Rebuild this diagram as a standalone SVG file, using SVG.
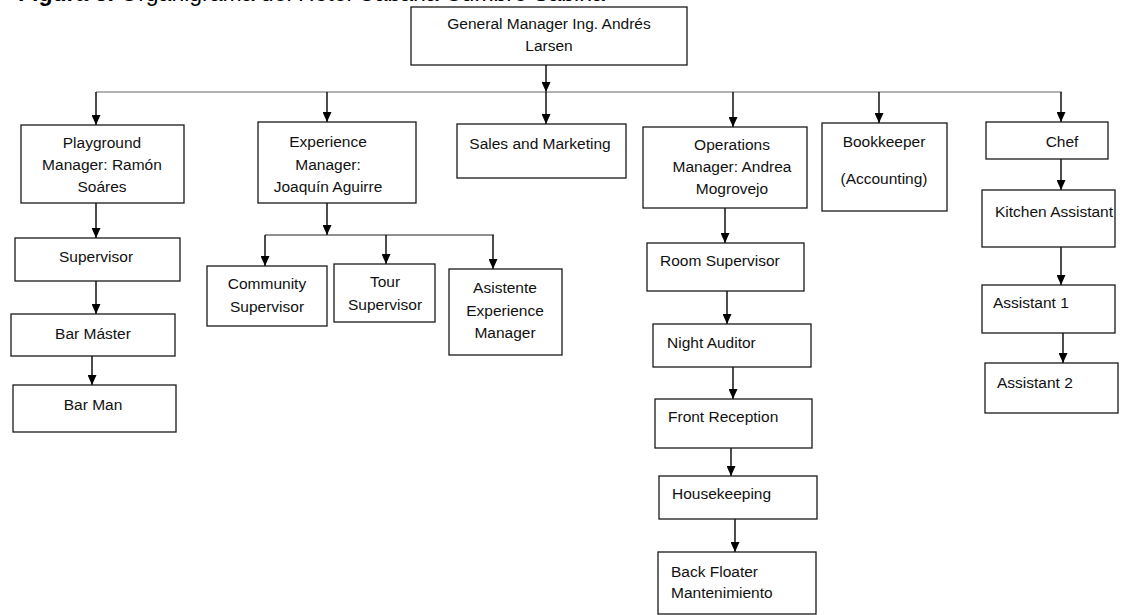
<svg xmlns="http://www.w3.org/2000/svg" width="1130" height="615" viewBox="0 0 1130 615">
<defs>
<marker id="ah" markerUnits="userSpaceOnUse" markerWidth="10" markerHeight="9" refX="10" refY="4.5" orient="auto">
<path d="M0,0 L10,4.5 L0,9 z" fill="#000"/>
</marker>
</defs>
<style>
.box{fill:#fff;stroke:#1a1a1a;stroke-width:1.3}
.t{font-family:"Liberation Sans",Arial,sans-serif;font-size:15.5px;fill:#111}
.c{text-anchor:middle}
.a{fill:none;stroke:#000;stroke-width:1.4;marker-end:url(#ah)}
.bus{fill:none;stroke:#666;stroke-width:1.1}
.sub{fill:none;stroke:#222;stroke-width:1.1}
.title{font-family:"Liberation Sans",Arial,sans-serif;font-size:23px;fill:#000}
</style>
<rect width="1130" height="615" fill="#fff"/>
<text class="title" x="18" y="0.5"><tspan font-weight="bold">Figura 3. </tspan>Organigrama del Hotel Cabaña Cumbre Sabina</text>

<g id="connectors">
<path class="a" d="M546,65 V92"/>
<path class="bus" d="M96,92 H1062"/>
<path class="a" d="M96,92 V125"/>
<path class="a" d="M327,92 V122"/>
<path class="a" d="M546,92 V124"/>
<path class="a" d="M733,92 V127"/>
<path class="a" d="M879,92 V123"/>
<path class="a" d="M1061,92 V122"/>
<path class="a" d="M96,203 V238"/>
<path class="a" d="M96,281 V314"/>
<path class="a" d="M92,356 V385"/>
<path class="a" d="M327,203 V235"/>
<path class="sub" d="M265,235 H494"/>
<path class="a" d="M265,235 V266"/>
<path class="a" d="M386,235 V264"/>
<path class="a" d="M493,235 V269"/>
<path class="a" d="M725,208 V243"/>
<path class="a" d="M727,291 V324"/>
<path class="a" d="M733,367 V399"/>
<path class="a" d="M731,448 V476"/>
<path class="a" d="M735,519 V552"/>
<path class="a" d="M1061,159 V190"/>
<path class="a" d="M1061,247 V285"/>
<path class="a" d="M1063,333 V363"/>
</g>

<g id="gm"><rect class="box" x="411" y="7" width="276" height="58"/>
<text class="t c" x="549" y="29">General Manager Ing. Andrés</text>
<text class="t c" x="549" y="51">Larsen</text></g>

<g id="playground"><rect class="box" x="21" y="125" width="163" height="78"/>
<text class="t c" x="102" y="148">Playground</text>
<text class="t c" x="102" y="170">Manager: Ramón</text>
<text class="t c" x="102" y="192">Soáres</text></g>

<g id="experience"><rect class="box" x="258" y="122" width="158" height="81"/>
<text class="t c" x="328" y="147">Experience</text>
<text class="t c" x="328" y="170">Manager:</text>
<text class="t c" x="328" y="192">Joaquín Aguirre</text></g>

<g id="sales"><rect class="box" x="457" y="124" width="169" height="54"/>
<text class="t c" x="540" y="149">Sales and Marketing</text></g>

<g id="operations"><rect class="box" x="643" y="127" width="164" height="81"/>
<text class="t c" x="732" y="150">Operations</text>
<text class="t c" x="732" y="172">Manager: Andrea</text>
<text class="t c" x="732" y="194">Mogrovejo</text></g>

<g id="bookkeeper"><rect class="box" x="822" y="123" width="125" height="88"/>
<text class="t c" x="884" y="147">Bookkeeper</text>
<text class="t c" x="884" y="184">(Accounting)</text></g>

<g id="chef"><rect class="box" x="986" y="122" width="122" height="37"/>
<text class="t c" x="1062" y="147">Chef</text></g>

<g id="kitchen"><rect class="box" x="982" y="190" width="133" height="57"/>
<text class="t" x="995" y="217">Kitchen Assistant</text></g>

<g id="assistant1"><rect class="box" x="982" y="285" width="133" height="48"/>
<text class="t" x="993" y="308">Assistant 1</text></g>

<g id="assistant2"><rect class="box" x="985" y="363" width="133" height="50"/>
<text class="t" x="997" y="388">Assistant 2</text></g>

<g id="supervisor"><rect class="box" x="15" y="238" width="165" height="43"/>
<text class="t c" x="96" y="262">Supervisor</text></g>

<g id="barmaster"><rect class="box" x="11" y="314" width="164" height="42"/>
<text class="t c" x="93" y="339">Bar Máster</text></g>

<g id="barman"><rect class="box" x="13" y="385" width="163" height="47"/>
<text class="t c" x="93" y="410">Bar Man</text></g>

<g id="community"><rect class="box" x="207" y="266" width="120" height="60"/>
<text class="t c" x="267" y="289">Community</text>
<text class="t c" x="267" y="312">Supervisor</text></g>

<g id="tour"><rect class="box" x="334" y="264" width="101" height="58"/>
<text class="t c" x="385" y="287">Tour</text>
<text class="t c" x="385" y="310">Supervisor</text></g>

<g id="asistente"><rect class="box" x="449" y="269" width="113" height="86"/>
<text class="t c" x="505" y="293">Asistente</text>
<text class="t c" x="505" y="316">Experience</text>
<text class="t c" x="505" y="338">Manager</text></g>

<g id="room"><rect class="box" x="647" y="243" width="157" height="48"/>
<text class="t" x="660" y="266">Room Supervisor</text></g>

<g id="night"><rect class="box" x="653" y="324" width="158" height="43"/>
<text class="t" x="667" y="348">Night Auditor</text></g>

<g id="front"><rect class="box" x="655" y="399" width="157" height="49"/>
<text class="t" x="668" y="422">Front Reception</text></g>

<g id="housekeeping"><rect class="box" x="659" y="476" width="158" height="43"/>
<text class="t" x="672" y="499">Housekeeping</text></g>

<g id="backfloater"><rect class="box" x="658" y="552" width="158" height="62"/>
<text class="t" x="671" y="577">Back Floater</text>
<text class="t" x="671" y="598">Mantenimiento</text></g>
</svg>
